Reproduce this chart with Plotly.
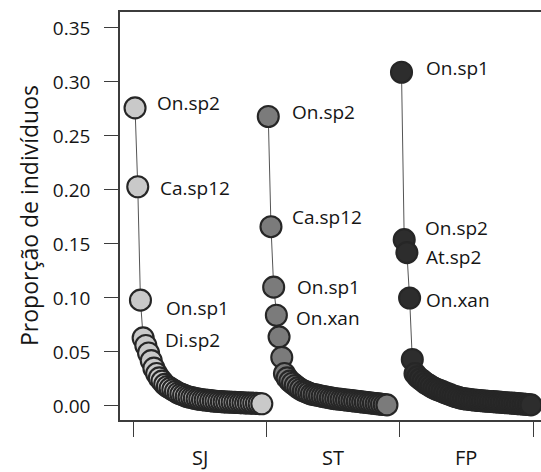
import plotly.graph_objects as go

# ---------------- data ----------------
sites = ["SJ", "ST", "FP"]

sj_values = [0.276, 0.203, 0.098, 0.063, 0.056, 0.049, 0.042, 0.035, 0.030, 0.026,
             0.023, 0.020, 0.018, 0.0165, 0.015, 0.0135, 0.012, 0.011, 0.010, 0.009,
             0.0083, 0.0077, 0.0071, 0.0066, 0.0062, 0.0058, 0.0055, 0.0052, 0.0049, 0.0046,
             0.0044, 0.0042, 0.0040, 0.0038, 0.0037, 0.0036, 0.0034, 0.0033, 0.0032, 0.0031,
             0.0030, 0.0028, 0.0027, 0.0026, 0.0025, 0.0024, 0.0022, 0.0020]
st_values = [0.268, 0.166, 0.110, 0.084, 0.064, 0.045, 0.030, 0.026, 0.023, 0.021,
             0.019, 0.017, 0.0155, 0.014, 0.013, 0.012, 0.011, 0.0105, 0.010, 0.0095,
             0.009, 0.0085, 0.008, 0.0075, 0.007, 0.0067, 0.0064, 0.0061, 0.0058, 0.0055,
             0.0052, 0.0049, 0.0046, 0.0043, 0.0040, 0.0037, 0.0034, 0.0031, 0.0028, 0.0025,
             0.0022, 0.0019, 0.0016, 0.0013, 0.0010]
fp_values = [0.309, 0.154, 0.142, 0.100, 0.043, 0.030, 0.027, 0.025, 0.023, 0.021,
             0.0195, 0.018, 0.0165, 0.0155, 0.0145, 0.0135, 0.0125, 0.0115, 0.0105, 0.0095,
             0.0088, 0.0080, 0.0072, 0.0068, 0.0064, 0.0061, 0.0058, 0.0055, 0.0052, 0.0050,
             0.0048, 0.0046, 0.0044, 0.0042, 0.0040, 0.0038, 0.0036, 0.0034, 0.0032, 0.0030,
             0.0028, 0.0026, 0.0024, 0.0022, 0.0020, 0.0018, 0.0016, 0.0013, 0.0010]

sj_labels = ["On.sp2", "Ca.sp12", "On.sp1", "Di.sp2"]
st_labels = ["On.sp2", "Ca.sp12", "On.sp1", "On.xan"]
fp_labels = ["On.sp1", "On.sp2", "At.sp2", "On.xan"]

y_ticks = [0.00, 0.05, 0.10, 0.15, 0.20, 0.25, 0.30, 0.35]
y_title = "Proporção de indivíduos"

# ---------------- styling ----------------
series = [sj_values, st_values, fp_values]
labels = [sj_labels, st_labels, fp_labels]
fills = ["#c9c9c9", "#7b7b7b", "#2d2d2d"]
rank_step = 1 / 49.4
first_offset = 0.013
# pixel nudges (dx, dy) for the species labels
label_nudges = [
    [(20, 5), (20, -1), (24, -8), (20, -2)],
    [(22, 5), (19, 10), (21, 0), (18, -3)],
    [(22, 4), (19, 12), (17, -4), (14, -2)],
]
FONT = "Open Sans"
AX = "#3c3c3c"
TXT = "#151515"

fig = go.Figure()
annotations = []
for g, (vals, fill) in enumerate(zip(series, fills)):
    xs = [g + first_offset + i * rank_step for i in range(len(vals))]
    fig.add_trace(go.Scatter(
        x=xs, y=vals, mode="lines+markers",
        line=dict(color="#555555", width=1),
        marker=dict(size=21, color=fill, line=dict(color="#262626", width=2.1)),
        showlegend=False, hoverinfo="skip"))
    for k, name in enumerate(labels[g]):
        dx, dy = label_nudges[g][k]
        annotations.append(dict(
            x=xs[k], y=vals[k], xref="x", yref="y", text=name, showarrow=False,
            xanchor="left", yanchor="middle", xshift=dx, yshift=dy,
            font=dict(family=FONT, size=19, color=TXT)))

for g, s in enumerate(sites):
    annotations.append(dict(
        x=g + 0.5, y=0, xref="x", yref="paper", text=s, showarrow=False,
        xanchor="center", yanchor="middle", yshift=-37,
        font=dict(family=FONT, size=20, color=TXT)))

annotations.append(dict(
    x=0, y=0.5, xref="paper", yref="paper", text=y_title, showarrow=False,
    textangle=-90, xanchor="center", yanchor="middle", xshift=-91,
    font=dict(family=FONT, size=23, color=TXT)))

fig.update_layout(
    width=541, height=472,
    margin=dict(l=120, r=0, t=12, b=52),
    paper_bgcolor="white", plot_bgcolor="white",
    annotations=annotations,
    xaxis=dict(range=[-0.1, 3.06], tickvals=[0, 1, 2, 3], ticktext=["", "", "", ""],
               ticks="outside", ticklen=15, tickwidth=1.4, tickcolor=AX,
               showline=True, mirror=True, linecolor=AX, linewidth=1.6,
               showgrid=False, zeroline=False),
    yaxis=dict(range=[-0.013, 0.3648], tickvals=y_ticks,
               ticktext=[f"{v:.2f}" for v in y_ticks],
               ticks="outside", ticklen=14, tickwidth=1.4, tickcolor=AX,
               ticklabelstandoff=10,
               tickfont=dict(family=FONT, size=19, color=TXT),
               showline=True, mirror=False, linecolor=AX, linewidth=1.6,
               showgrid=False, zeroline=False),
)

fig.write_html("out.html")
